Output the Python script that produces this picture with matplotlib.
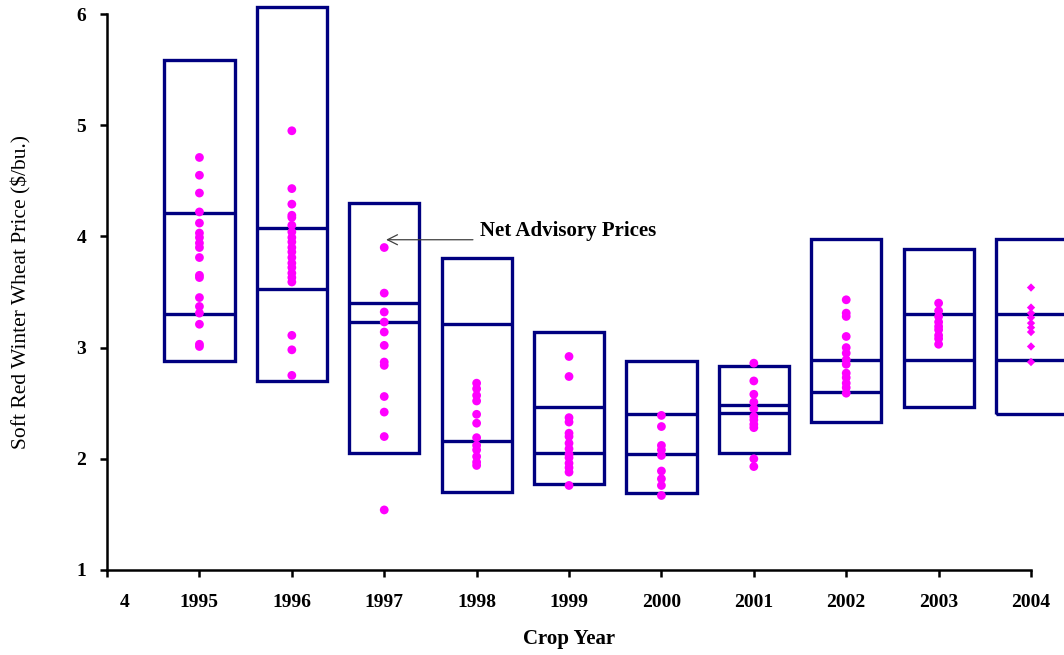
import matplotlib
matplotlib.use('Agg')
import matplotlib.pyplot as plt
import matplotlib.transforms as mtransforms
from matplotlib.patches import Rectangle

# crop years and tick labels (first label is the odd "4" of the original)
years = ['1995', '1996', '1997', '1998', '1999', '2000', '2001', '2002', '2003', '2004']
xtick_labels = ['4'] + years

# box top / bottom and the two inner lines ($/bu.)
box_top = [5.59, 6.06, 4.30, 3.81, 3.14, 2.88, 2.83, 3.98, 3.89, 3.98]
box_bottom = [2.88, 2.70, 2.05, 1.70, 1.77, 1.69, 2.05, 2.33, 2.47, 2.40]
line_upper = [4.21, 4.08, 3.40, 3.21, 2.47, 2.40, 2.48, 2.89, 3.30, 3.30]
line_lower = [3.30, 3.53, 3.23, 2.16, 2.05, 2.04, 2.41, 2.60, 2.89, 2.89]

# net advisory prices per year
prices = [
    [4.71, 4.55, 4.39, 4.22, 4.12, 4.03, 3.99, 3.94, 3.90, 3.81, 3.65, 3.63, 3.45, 3.37, 3.31, 3.21, 3.03, 3.01],
    [4.95, 4.43, 4.29, 4.19, 4.17, 4.10, 4.04, 3.99, 3.95, 3.90, 3.86, 3.81, 3.76, 3.72, 3.67, 3.63, 3.59,
     3.11, 2.98, 2.75],
    [3.90, 3.49, 3.32, 3.23, 3.14, 3.02, 2.87, 2.84, 2.56, 2.42, 2.20, 1.54],
    [2.68, 2.63, 2.57, 2.52, 2.40, 2.32, 2.19, 2.12, 2.08, 2.02, 1.97, 1.94],
    [2.92, 2.74, 2.37, 2.33, 2.23, 2.20, 2.14, 2.09, 2.04, 2.01, 1.96, 1.92, 1.88, 1.76],
    [2.39, 2.29, 2.12, 2.08, 2.03, 1.89, 1.82, 1.76, 1.67],
    [2.86, 2.70, 2.58, 2.51, 2.45, 2.38, 2.35, 2.31, 2.28, 2.00, 1.93],
    [3.43, 3.31, 3.28, 3.10, 3.00, 2.95, 2.89, 2.85, 2.77, 2.73, 2.68, 2.64, 2.59],
    [3.40, 3.33, 3.28, 3.23, 3.19, 3.16, 3.11, 3.08, 3.03],
    [3.54, 3.36, 3.31, 3.27, 3.22, 3.18, 3.14, 3.01, 2.87],
]

navy = '#000080'
magenta = '#ff00ff'
serif = ['Liberation Serif', 'DejaVu Serif']

fig = plt.figure(figsize=(10.64, 6.55), dpi=100)
ax = fig.add_axes([0.1006, 0.1298, 0.8684, 0.8488])

box_w = 0.76
for i in range(len(years)):
    x = i + 1
    rect = Rectangle((x - box_w / 2, box_bottom[i]), box_w, box_top[i] - box_bottom[i],
                     fill=False, edgecolor=navy, linewidth=2.4, clip_on=False, zorder=2)
    ax.add_patch(rect)
    for v in (line_upper[i], line_lower[i]):
        ax.plot([x - box_w / 2, x + box_w / 2], [v, v], color=navy, linewidth=2.4,
                clip_on=False, zorder=2, solid_capstyle='butt')
    marker = 'D' if years[i] == '2004' else 'o'
    size = 18 if marker == 'D' else 40
    ax.scatter([x] * len(prices[i]), prices[i], s=size, marker=marker, color=magenta,
               edgecolors='none', clip_on=False, zorder=3)

ax.set_xlim(0, 10)
ax.set_ylim(1, 6)
ax.set_xticks(range(11))
ax.set_xticklabels(xtick_labels)
ax.set_yticks([1, 2, 3, 4, 5, 6])

for s in ('top', 'right'):
    ax.spines[s].set_visible(False)
for s in ('left', 'bottom'):
    ax.spines[s].set_linewidth(1.8)
    ax.spines[s].set_color('black')

ax.tick_params(axis='both', direction='out', length=5, width=1.8, colors='black')
ax.tick_params(axis='x', pad=12)
ax.tick_params(axis='y', pad=10)
for lab in ax.get_xticklabels() + ax.get_yticklabels():
    lab.set_family(serif)
    lab.set_fontweight('bold')
    lab.set_fontsize(14)

# shift the first "4" label to the right, as in the original
first = ax.get_xticklabels()[0]
first.set_transform(first.get_transform() + mtransforms.ScaledTranslation(0.18, 0, fig.dpi_scale_trans))

ax.set_xlabel('Crop Year', family=serif, fontweight='bold', fontsize=15, labelpad=13)
ax.set_ylabel('Soft Red Winter Wheat Price ($/bu.)', family=serif, fontsize=15.5, labelpad=32)

# callout: horizontal arrow from the label to the top 1997 price
ax.annotate('', xy=(3.02, 3.97), xytext=(3.96, 3.97),
            arrowprops=dict(arrowstyle='->', color='#404040', lw=0.9, mutation_scale=18,
                            shrinkA=0, shrinkB=0))
ax.text(4.04, 4.05, 'Net Advisory Prices', family=serif, fontweight='bold', fontsize=15,
        va='center', ha='left')

fig.savefig('out.png', dpi=100, facecolor='white')
